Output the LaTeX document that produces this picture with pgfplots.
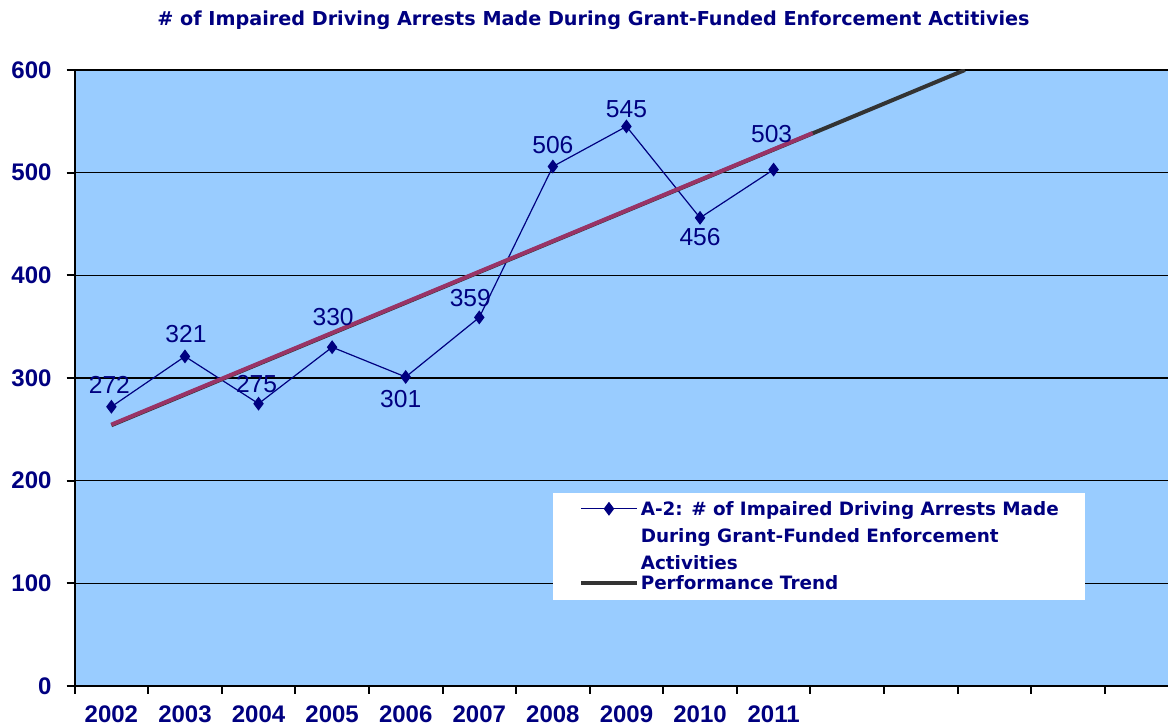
\documentclass[border=0pt]{standalone}
\usepackage{pgfplots}
\pgfplotsset{compat=1.18}
\usepackage{pgfplotstable}
\usepackage{fontspec}
\setmainfont{Liberation Sans}
\newfontfamily\legfont{DejaVu Sans}
\definecolor{plotbg}{HTML}{99CCFF}
\definecolor{navyt}{HTML}{000080}
\definecolor{trendred}{HTML}{993366}
\definecolor{trenddark}{HTML}{333333}

% legend line raised to the first of three text lines
\pgfplotsset{firstleg/.style={legend image code/.code={%
  \draw[mark repeat=2,mark phase=2,##1,yshift=30.3pt]
    plot coordinates {(0pt,0pt) (13.8pt,0pt) (27.7pt,0pt)};}}}

% arrests per year (x = 0 is 2002), dx/dy = label offset in pt
\pgfplotstableread{
x y dx dy
0 272 -1 11
1 321 0.5 11
2 275 -1 10
3 330 0.5 15
4 301 -2.5 -11
5 359 -4.5 9.7
6 506 0 10.5
7 545 0 8.5
8 456 0 -9.5
9 503 -1 18
}\arrests

% performance trend
\pgfplotstableread{
x y
0 254
11.6 600
}\trendfull
\pgfplotstableread{
x y
0 254
9.53 538
}\trendred

\begin{document}
\begin{tikzpicture}
\begin{axis}[name=ax,
  scale only axis, width=546.7pt, height=308pt,
  xmin=-0.5, xmax=14.36, ymin=0, ymax=600,
  axis x line*=bottom, axis y line*=left,
  axis line style={line width=1pt,-},
  axis background/.style={fill=plotbg},
  ytick={0,100,...,600}, ymajorgrids,
  grid style={black,line width=0.65pt},
  xtick={-0.5,0.5,...,13.5}, xticklabels={},
  extra x ticks={0,1,2,3,4,5,6,7,8,9},
  extra x tick labels={2002,2003,2004,2005,2006,2007,2008,2009,2010,2011},
  extra x tick style={major tick length=0pt,grid=none,
    xticklabel style={yshift=-6.5pt}},
  tick align=outside, major tick length=4pt,
  tick style={black,line width=1pt},
  /pgf/number format/assume math mode=true,
  ticklabel style={font=\bfseries\fontsize{12}{14}\selectfont,text=navyt},
  yticklabel style={xshift=-4pt},
  title={\# of Impaired Driving Arrests Made During Grant-Funded Enforcement Actitivies},
  title style={at={(0.4746,1)},anchor=center,yshift=19pt,
    font=\legfont\bfseries\fontsize{9.6}{12}\selectfont,text=navyt},
  legend style={at={(0.4375,0.3133)},anchor=north west,fill=white,draw=none,
    font=\legfont\bfseries\fontsize{9.2}{11}\selectfont,text=navyt,
    inner xsep=13pt,inner ysep=4pt,nodes={inner sep=0pt},
    cells={anchor=base west},row sep=1.5pt,column sep=1pt},
  legend image code/.code={\draw[mark repeat=2,mark phase=2,#1,yshift=3.3pt]
    plot coordinates {(0pt,0pt) (13.8pt,0pt) (27.7pt,0pt)};},
]
\addplot[navyt,line width=0.6pt,mark=diamond*,mark size=3pt,firstleg,
  nodes near coords,
  visualization depends on={\thisrow{dx}\as\dx},
  visualization depends on={\thisrow{dy}\as\dy},
  every node near coord/.append style={anchor=center,xshift=\dx pt,yshift=\dy pt,
    font=\fontsize{12.3}{14}\selectfont,text=navyt}]
  table[x=x,y=y] {\arrests};
\addlegendentry{\parbox[b]{209pt}{\baselineskip=13.5pt A-2: \# of Impaired Driving Arrests Made\newline During Grant-Funded Enforcement\newline Activities}}
\addplot[trenddark,line width=2pt] table[x=x,y=y] {\trendfull};
\addlegendentry{Performance Trend}
\addplot[trendred,line width=2pt,yshift=0.3pt,forget plot] table[x=x,y=y] {\trendred};
\end{axis}
\pgfresetboundingbox
\path[use as bounding box] ([xshift=-37.3pt,yshift=-19.5pt]ax.south west)
  rectangle ([yshift=35pt]ax.north east);
\end{tikzpicture}
\end{document}
